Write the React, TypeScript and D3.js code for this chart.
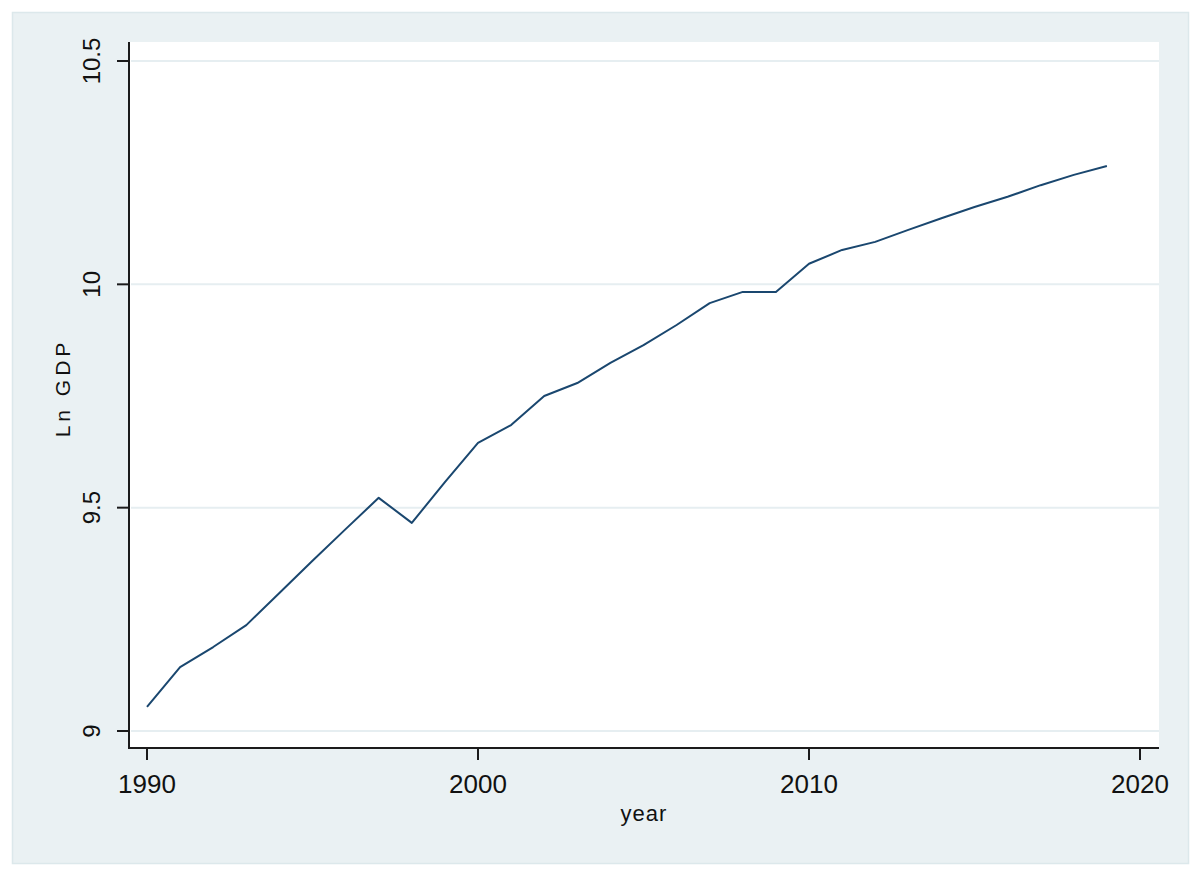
import React from "react";
import * as d3 from "d3";

const years = [1990,1991,1992,1993,1994,1995,1996,1997,1998,1999,2000,2001,2002,2003,2004,2005,2006,2007,2008,2009,2010,2011,2012,2013,2014,2015,2016,2017,2018,2019];
const lnGdp = [9.054,9.143,9.188,9.237,9.309,9.381,9.452,9.522,9.466,9.557,9.645,9.685,9.750,9.779,9.824,9.864,9.909,9.958,9.983,9.983,10.046,10.077,10.095,10.122,10.148,10.173,10.196,10.222,10.245,10.265];
const xTicks = [1990, 2000, 2010, 2020];
const yTicks = [9, 9.5, 10, 10.5];
const yTickLabels = ["9", "9.5", "10", "10.5"];

const W = 1200, H = 878;
const plotL = 129, plotR = 1159, plotT = 42, plotB = 748;

export default function App() {
  const x = d3.scaleLinear().domain([1990, 2020]).range([147, 1140]);
  const y = d3.scaleLinear().domain([9, 10.5]).range([731, 61]);
  const pts = years.map((yr, i) => [yr, lnGdp[i]] as [number, number]);
  const line = d3.line<[number, number]>().x(d => x(d[0])).y(d => y(d[1]));
  const font = "'Liberation Sans', Arial, sans-serif";
  return (
    <svg width={W} height={H} style={{ position: "absolute", left: 0, top: 0, background: "#ffffff" }}>
      <rect x={12.5} y={12.5} width={1176} height={851} fill="#eaf1f3" stroke="#dce8eb" strokeWidth={1.5} />
      <rect x={plotL} y={plotT} width={plotR - plotL} height={plotB - plotT} fill="#ffffff" />
      {yTicks.map(t => (
        <line key={"g" + t} x1={plotL + 2} x2={plotR} y1={y(t)} y2={y(t)} stroke="#e6eef1" strokeWidth={2} />
      ))}
      <path d={line(pts) || ""} fill="none" stroke="#1a476f" strokeWidth={2} strokeLinejoin="round" />
      <line x1={plotL} x2={plotL} y1={plotT} y2={plotB + 1} stroke="#1b1b1b" strokeWidth={2} />
      <line x1={plotL - 1} x2={plotR} y1={plotB} y2={plotB} stroke="#1b1b1b" strokeWidth={2} />
      {yTicks.map((t, i) => (
        <g key={"y" + t}>
          <line x1={plotL - 12} x2={plotL} y1={y(t)} y2={y(t)} stroke="#1b1b1b" strokeWidth={2} />
          <text transform={`translate(${100},${y(t)}) rotate(-90)`} textAnchor="middle" fontFamily={font} fontSize={24} fill="#111">
            {yTickLabels[i]}
          </text>
        </g>
      ))}
      {xTicks.map(t => (
        <g key={"x" + t}>
          <line x1={x(t)} x2={x(t)} y1={plotB} y2={plotB + 12} stroke="#1b1b1b" strokeWidth={2} />
          <text x={x(t)} y={793} textAnchor="middle" fontFamily={font} fontSize={26} fill="#111">{t}</text>
        </g>
      ))}
      <text x={(plotL + plotR) / 2} y={821} textAnchor="middle" fontFamily={font} fontSize={22} fill="#111" letterSpacing={1}>year</text>
      <text transform={`translate(${70},${388}) rotate(-90)`} textAnchor="middle" fontFamily={font} fontSize={21} fill="#111" letterSpacing={4}>Ln GDP</text>
    </svg>
  );
}
